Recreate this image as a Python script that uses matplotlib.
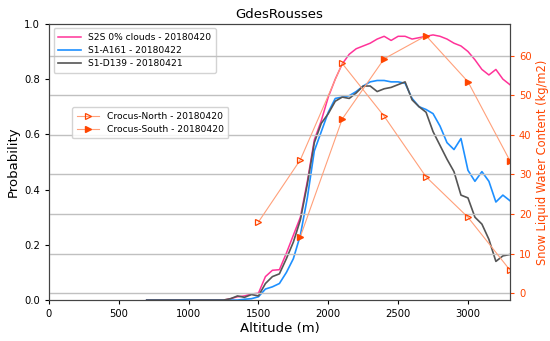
import matplotlib
matplotlib.use("Agg")
import matplotlib.pyplot as plt
import numpy as np

# Altitude grid for the probability curves (m)
altitude = list(range(700, 3301, 50))
zeros_low = [0.0] * 12  # 700..1250

s2s = zeros_low + [0.005, 0.012, 0.015, 0.022, 0.025, 0.085, 0.108, 0.11, 0.17, 0.235,
                   0.30, 0.43, 0.58, 0.65, 0.735, 0.80, 0.855, 0.89, 0.91, 0.92,
                   0.93, 0.945, 0.955, 0.94, 0.955, 0.955, 0.945, 0.95, 0.955, 0.96,
                   0.955, 0.945, 0.93, 0.92, 0.90, 0.87, 0.835, 0.815, 0.835, 0.80, 0.78]
s1a = zeros_low + [0.0, 0.0, 0.003, 0.005, 0.012, 0.04, 0.048, 0.06, 0.10, 0.15,
                   0.235, 0.37, 0.54, 0.61, 0.68, 0.73, 0.735, 0.74, 0.755, 0.775,
                   0.79, 0.795, 0.795, 0.79, 0.79, 0.785, 0.73, 0.70, 0.69, 0.675,
                   0.63, 0.57, 0.545, 0.585, 0.47, 0.43, 0.465, 0.43, 0.355, 0.38, 0.36]
s1d = zeros_low + [0.005, 0.015, 0.01, 0.02, 0.015, 0.06, 0.085, 0.095, 0.15, 0.21,
                   0.29, 0.42, 0.57, 0.64, 0.675, 0.72, 0.735, 0.73, 0.75, 0.775,
                   0.775, 0.755, 0.765, 0.77, 0.78, 0.79, 0.725, 0.70, 0.68, 0.61,
                   0.56, 0.51, 0.465, 0.38, 0.37, 0.30, 0.275, 0.22, 0.14, 0.16, 0.165]

# Crocus liquid water content (kg/m2)
north_alt = [1500, 1800, 2100, 2400, 2700, 3000, 3300]
north_lwc = [18.0, 33.7, 58.0, 44.7, 29.4, 19.2, 5.9]
south_alt = [1800, 2100, 2400, 2700, 3000, 3300]
south_lwc = [14.3, 44.0, 59.2, 65.0, 53.4, 33.5]

lbl_s2s = "S2S 0% clouds - 20180420"
lbl_s1a = "S1-A161 - 20180422"
lbl_s1d = "S1-D139 - 20180421"
lbl_north = "Crocus-North - 20180420"
lbl_south = "Crocus-South - 20180420"

plt.rcParams['font.family'] = ['DejaVu Sans']

fig = plt.figure(figsize=(5.5, 3.41), dpi=100)
ax1 = fig.add_axes([0.089, 0.120, 0.838, 0.810])
ax2 = ax1.twinx()

ax1.plot(altitude, s2s, color='#ff3399', lw=1.1, label=lbl_s2s)
ax1.plot(altitude, s1a, color='#1e90ff', lw=1.2, label=lbl_s1a)
ax1.plot(altitude, s1d, color='#555555', lw=1.2, label=lbl_s1d)
ax1.set_xlim(0, 3300)
ax1.set_ylim(0, 1.0)
ax1.set_xlabel("Altitude (m)", fontsize=9.5, labelpad=2)
ax1.set_ylabel("Probability", fontsize=9.5, labelpad=3)
ax1.set_title("GdesRousses", fontsize=9.5, pad=4)
ax1.tick_params(labelsize=7.2, length=3)
ax1.legend(loc='upper left', fontsize=6.6, framealpha=0.85, borderpad=0.5,
           handlelength=2.5, labelspacing=0.45)

orange = '#ff4500'
ax2.plot(north_alt, north_lwc, color='#ffa07a', lw=0.8, marker='>', ms=5,
         mfc='none', mec=orange, mew=0.9, label=lbl_north, clip_on=True)
ax2.plot(south_alt, south_lwc, color='#ffa07a', lw=0.8, marker='>', ms=5,
         mfc=orange, mec=orange, label=lbl_south)
ax2.set_ylim(-1.7, 68)
ax2.set_yticks(np.arange(0, 61, 10))
ax2.grid(axis='y', color='#c0c0c0', lw=1.0)
ax2.tick_params(axis='y', colors=orange, labelsize=7.2, length=3)
ax2.set_ylabel("Snow Liquid Water Content (kg/m2)", color=orange, fontsize=8.3, labelpad=3)
ax2.legend(loc='upper left', bbox_to_anchor=(0.04, 0.715), fontsize=6.6,
           framealpha=0.85, borderpad=0.5, handlelength=2.5, labelspacing=0.45)

for ax in (ax1, ax2):
    for s in ax.spines.values():
        s.set_color('#444444')

fig.savefig("out.png", dpi=100)
